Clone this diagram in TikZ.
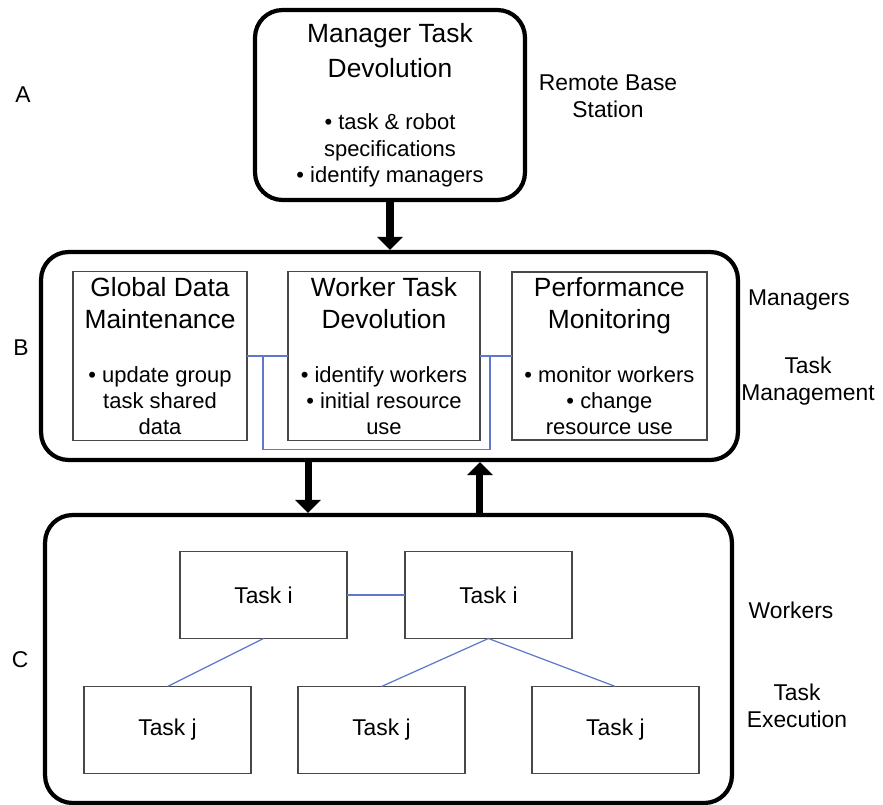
\documentclass[tikz,border=0pt]{standalone}
\usepackage{fontspec}
\setmainfont{Liberation Sans}
\usetikzlibrary{positioning, calc, arrows.meta}
\definecolor{linkblue}{RGB}{96,120,204}
\definecolor{boxgray}{RGB}{72,72,72}
\newcommand{\ttl}[1]{{\fontsize{15}{18}\selectfont #1}}

\begin{document}
\begin{tikzpicture}[
    x=0.02cm, y=-0.02cm,
    layer/.style={rectangle, draw, rounded corners=0.55cm, line width=2.4pt},
    part/.style={rectangle, draw=boxgray, line width=0.9pt, outer sep=0pt, minimum height=3.36cm, align=center, font=\fontsize{12.5}{14.7}\selectfont},
    task/.style={rectangle, draw=boxgray, line width=0.9pt, outer sep=0pt, minimum width=3.34cm, minimum height=1.74cm, font=\fontsize{13}{15.6}\selectfont},
    side/.style={align=center, font=\fontsize{13}{15.6}\selectfont},
    flow/.style={-{Triangle[length=0.26cm, width=0.5cm]}, line width=4pt},
    link/.style={draw=linkblue, line width=0.7pt}
]
\useasboundingbox (0,0) rectangle (883,805);

% Ebenen
\node[layer, minimum width=5.4cm, minimum height=3.8cm, align=center, font=\fontsize{12.5}{14.9}\selectfont] (mgr) at (390,105)
    {\ttl{Manager Task}\\[5pt]\ttl{Devolution}\\[15pt]\textbullet{} task \& robot\\specifications\\\textbullet{} identify managers};
\node[layer, minimum width=13.94cm, minimum height=4.16cm] (managers) at (389.5,356) {};
\node[layer, minimum width=13.74cm, minimum height=5.76cm] (workers) at (388.5,659) {};

% Manager-Module
\node[part, minimum width=3.48cm] (gdm) at (160,356)
    {\ttl{Global Data}\\[3.5pt]\ttl{Maintenance}\\[16pt]\textbullet{} update group\\task shared\\data};
\node[part, minimum width=3.84cm, right=0.82cm of gdm] (wtd)
    {\ttl{Worker Task}\\[3.5pt]\ttl{Devolution}\\[16pt]\textbullet{} identify workers\\\textbullet{} initial resource\\use};
\node[part, minimum width=3.9cm, right=0.64cm of wtd] (pm)
    {\ttl{Performance}\\[3.5pt]\ttl{Monitoring}\\[16pt]\textbullet{} monitor workers\\\textbullet{} change\\resource use};

% Tasks
\node[task] (ti1) at (263.5,595) {Task i};
\node[task, right=1.16cm of ti1] (ti2) {Task i};
\node[task] (tj1) at (167.5,730) {Task j};
\node[task, right=0.94cm of tj1] (tj2) {Task j};
\node[task, right=1.34cm of tj2] (tj3) {Task j};

% Beschriftungen
\node[side] (lblA) at (23,95) {A};
\node[side] (lblB) at (21,348) {B};
\node[side] (lblC) at (20,660) {C};
\node[side] (remote) at (608,96) {Remote Base\\Station};
\node[side] (mgrlabel) at (799,300) {Managers};
\node[side] (tmlabel) at (808,381) {Task\\Management};
\node[side] (wlabel) at (791,610) {Workers};
\node[side] (telabel) at (797,706) {Task\\Execution};

% Pfeile
\coordinate (down) at ([xshift=-1.63cm]managers.south);
\coordinate (up) at ([xshift=1.81cm]managers.south);
\draw[flow] (mgr.south) -- (mgr.south |- managers.north);
\draw[flow] (down) -- (down |- workers.north);
\draw[flow] (up |- workers.north) -- (up);

% Verbindungen
\coordinate (uleft) at ([xshift=0.32cm]gdm.east);
\coordinate (uright) at ([xshift=0.2cm]wtd.east);
\draw[link] (gdm.east) -- (wtd.west);
\draw[link] (wtd.east) -- (pm.west);
\draw[link] (uleft) |- ([yshift=-0.18cm]wtd.south) -| (uright);
\draw[link] (ti1.east) -- (ti2.west);
\draw[link] (ti1.south) -- (tj1.north);
\draw[link] (ti2.south) -- (tj2.north);
\draw[link] (ti2.south) -- (tj3.north);

\end{tikzpicture}
\end{document}
